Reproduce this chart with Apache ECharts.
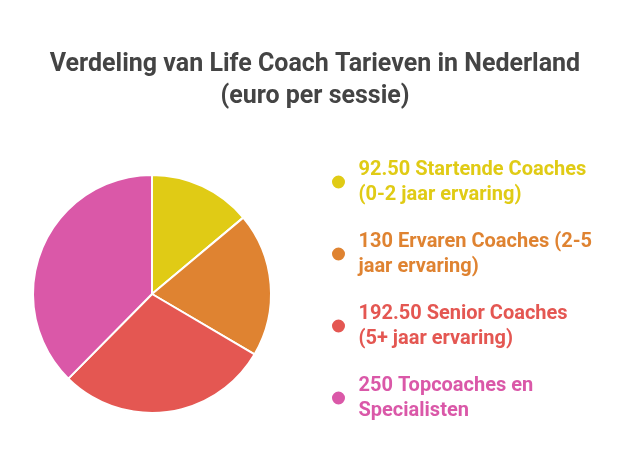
<!DOCTYPE html>
<html>
<head>
<meta charset="utf-8">
<script src="https://cdn.jsdelivr.net/npm/echarts@6/dist/echarts.min.js"></script>
<style>html,body{margin:0;padding:0;background:#fff;}#c{width:628px;height:468px;}</style>
</head>
<body>
<div id="c"></div>
<script>
const categories = [
  "Startende Coaches (0-2 jaar ervaring)",
  "Ervaren Coaches (2-5 jaar ervaring)",
  "Senior Coaches (5+ jaar ervaring)",
  "Topcoaches en Specialisten"
];
const valueLabels = ["92.50", "130", "192.50", "250"];
const values = [92.5, 130, 192.5, 250];
const colors = ["#E0CB15", "#DF8331", "#E45752", "#DA58A8"];

const chart = echarts.init(document.getElementById('c'));
const names = categories.map((c, i) => valueLabels[i] + ' ' + c);
chart.setOption({
  color: colors,
  title: {
    text: 'Verdeling van Life Coach Tarieven in Nederland\n(euro per sessie)',
    left: 310,
    textAlign: 'center',
    top: 44,
    textStyle: { fontFamily: 'Roboto', fontWeight: 'bold', fontSize: 25, color: '#444444', lineHeight: 32 }
  },
  legend: {
    orient: 'vertical',
    left: 325,
    top: 152,
    itemGap: 22,
    icon: 'circle',
    itemWidth: 30,
    itemHeight: 15,
    textStyle: { fontFamily: 'Roboto', fontWeight: 'bold', fontSize: 20, lineHeight: 25, width: 240, overflow: 'break' },
    data: names.map((n, i) => ({ name: n, textStyle: { color: colors[i] } }))
  },
  series: [{
    type: 'pie',
    center: [152, 294],
    radius: 119,
    startAngle: 90,
    clockwise: true,
    label: { show: false },
    labelLine: { show: false },
    itemStyle: { borderColor: '#ffffff', borderWidth: 2 },
    emphasis: { disabled: true },
    data: names.map((n, i) => ({ name: n, value: values[i] }))
  }]
});
</script>
</body>
</html>
